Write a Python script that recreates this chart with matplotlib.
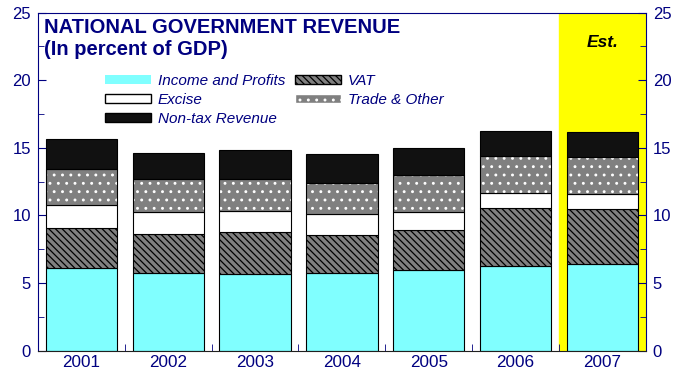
import numpy as np
import matplotlib
matplotlib.use("Agg")
import matplotlib.pyplot as plt
from matplotlib.patches import Patch

# values (percent of GDP)
years = ["2001", "2002", "2003", "2004", "2005", "2006", "2007"]
income = [6.12, 5.71, 5.66, 5.71, 5.95, 6.25, 6.39]
vat = [2.98, 2.90, 3.12, 2.82, 2.95, 4.33, 4.11]
excise = [1.70, 1.64, 1.54, 1.55, 1.35, 1.07, 1.11]
trade = [2.65, 2.46, 2.39, 2.29, 2.76, 2.76, 2.75]
nontax = [2.21, 1.92, 2.16, 2.21, 1.99, 1.86, 1.84]

navy = "#000080"
plt.rcParams["font.family"] = ["Liberation Sans", "DejaVu Sans"]
plt.rcParams["hatch.linewidth"] = 0.9

fig = plt.figure(figsize=(6.86, 3.72), dpi=100)
ax = fig.add_axes([0.0554, 0.0573, 0.886, 0.9087])

x = np.arange(len(years))
w = 0.82
vat_hatch = "\\\\\\\\\\"

# estimate year highlight
ax.axvspan(5.5, 6.5, color="#ffff00", zorder=0)

b1 = np.array(income)
b2 = b1 + np.array(vat)
b3 = b2 + np.array(excise)
b4 = b3 + np.array(trade)

ax.bar(x, income, w, color="#80ffff", edgecolor="black", linewidth=0.8, zorder=2)
ax.bar(x, vat, w, bottom=b1, color="#808080", edgecolor="black",
       linewidth=0.8, hatch=vat_hatch, zorder=2)
ax.bar(x, excise, w, bottom=b2, color="white", edgecolor="black", linewidth=0.8, zorder=2)
# dotted fill: white dots drawn as hatch, then a black outline on top
ax.bar(x, trade, w, bottom=b3, color="#808080", edgecolor="white",
       linewidth=0, hatch="..", zorder=2)
ax.bar(x, trade, w, bottom=b3, fill=False, edgecolor="black", linewidth=0.8, zorder=3)
ax.bar(x, nontax, w, bottom=b4, color="#111111", edgecolor="black", linewidth=0.8, zorder=2)

ax.set_xlim(-0.5, len(years) - 0.5)
ax.set_ylim(0, 25)
ax.set_yticks(np.arange(0, 26, 5))
ax.set_yticks(np.arange(0, 25.1, 2.5), minor=True)
ax.set_xticks(x)
ax.set_xticklabels(years)
ax.set_xticks(np.arange(0.5, len(years) - 1, 1), minor=True)

ax.tick_params(axis="x", which="major", length=0, labelsize=12.3, labelcolor=navy, pad=3)
ax.tick_params(axis="x", which="minor", direction="in", length=5, color=navy)
ax.tick_params(axis="y", which="both", direction="in", color=navy, labelcolor=navy,
               labelsize=12, right=True, labelright=True, pad=5)
ax.tick_params(axis="y", which="major", length=6)
ax.tick_params(axis="y", which="minor", length=4)

for s in ["left", "right", "top"]:
    ax.spines[s].set_color(navy)
ax.spines["bottom"].set_color("#202020")

ax.text(0.01, 0.983, "NATIONAL GOVERNMENT REVENUE\n(In percent of GDP)",
        transform=ax.transAxes, ha="left", va="top", fontsize=14.5,
        fontweight="bold", color=navy, linespacing=1.17)
ax.text(6, 22.8, "Est.", ha="center", va="center", fontsize=12.5,
        fontweight="bold", fontstyle="italic", color="black")

handles = [
    Patch(facecolor="#80ffff", edgecolor="none", label="Income and Profits"),
    Patch(facecolor="white", edgecolor="black", label="Excise"),
    Patch(facecolor="#111111", edgecolor="black", label="Non-tax Revenue"),
    Patch(facecolor="#808080", edgecolor="black", hatch=vat_hatch, label="VAT"),
    Patch(facecolor="#808080", edgecolor="white", hatch="..", label="Trade & Other"),
]
leg = ax.legend(handles=handles, ncol=2, loc="upper left",
                bbox_to_anchor=(0.1, 0.838), frameon=False,
                prop={"style": "italic", "size": 11},
                handlelength=3.0, handleheight=0.55, handletextpad=0.45,
                labelspacing=0.33, columnspacing=0.65, borderaxespad=0)
for t in leg.get_texts():
    t.set_color(navy)

fig.savefig("out.png", dpi=100)
